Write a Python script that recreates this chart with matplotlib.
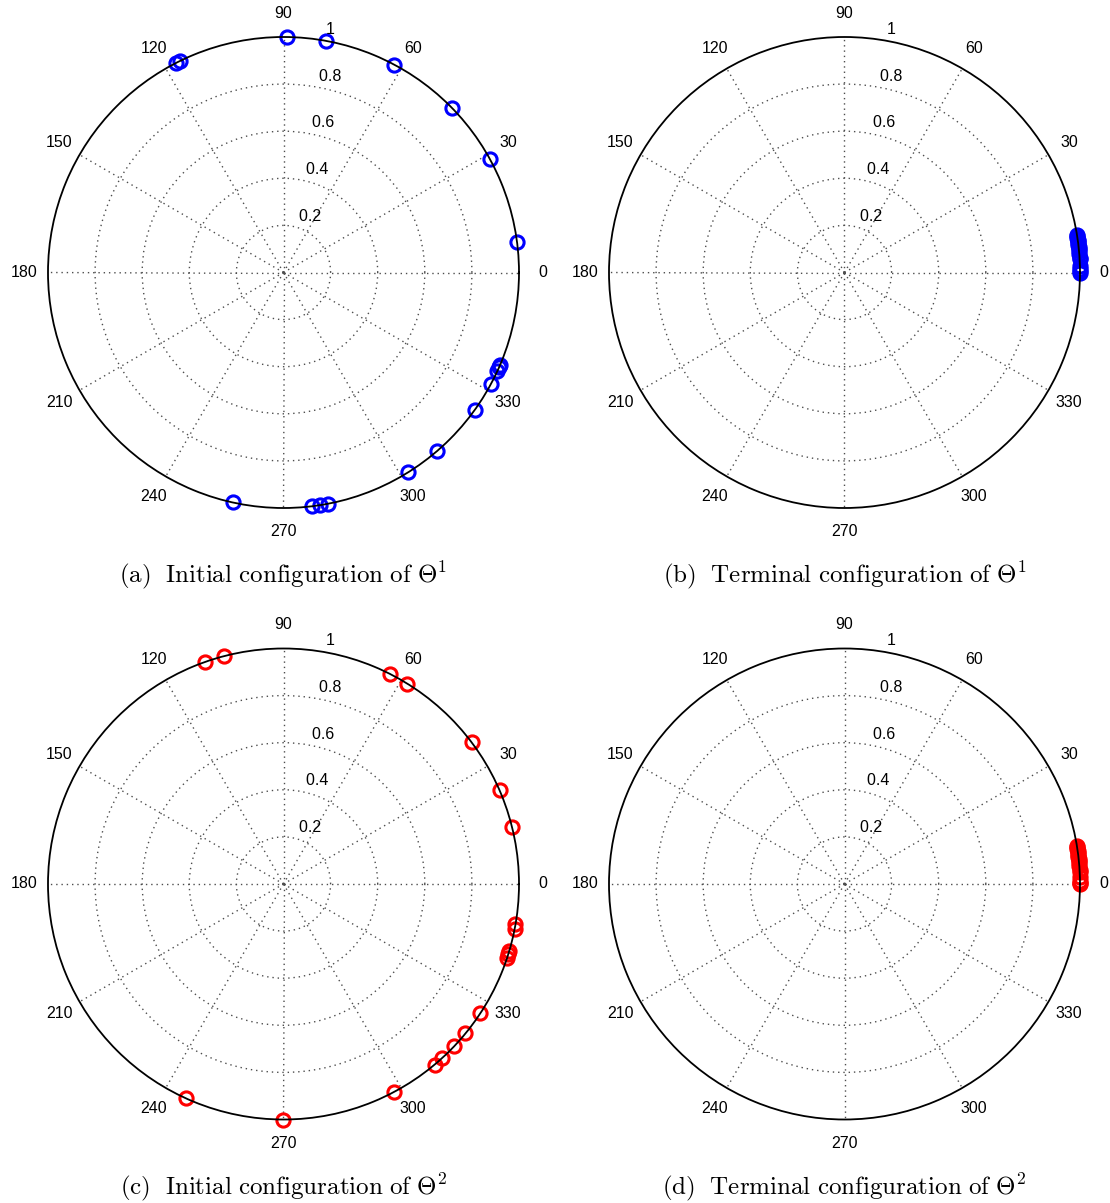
import numpy as np
import matplotlib.pyplot as plt

plt.rcParams['font.family'] = ['Liberation Sans', 'DejaVu Sans']
plt.rcParams['mathtext.fontset'] = 'cm'

# angles in degrees, all points sit on the unit circle
theta_init1 = [89.1, 79.7, 61.9, 44.2, 28.9, 7.4, 117.1, 116.0, -23.0, -23.6, -24.7,
               -28.3, -35.7, -49.2, -58.1, 257.5, -83.1, -81.2, -79.2]
theta_term1 = [0.0, 0.4, 0.8, 1.5, 3.2, 3.6, 4.6, 5.2, 5.8, 6.3, 6.8, 7.2, 7.6,
               8.0, 8.4, 8.8, 9.1]
theta_init2 = [109.6, 104.6, 63.2, 58.3, 37.0, 23.4, 14.1, -9.9, -11.0, -16.5, -17.4,
               -18.3, -33.3, -39.4, -43.5, -47.8, -50.1, -62.1, 245.6, 270.0]
theta_term2 = [0.0, 0.3, 0.7, 1.6, 3.0, 3.5, 4.4, 5.0, 5.6, 6.1, 6.6, 7.1, 7.6,
               8.0, 8.5, 9.0, 9.4]

r_ticks = [0.2, 0.4, 0.6, 0.8, 1.0]
angle_ticks = list(range(0, 360, 30))

captions = [r'$\mathrm{(a)\ \ Initial\ configuration\ of\ }\Theta^1$',
            r'$\mathrm{(b)\ \ Terminal\ configuration\ of\ }\Theta^1$',
            r'$\mathrm{(c)\ \ Initial\ configuration\ of\ }\Theta^2$',
            r'$\mathrm{(d)\ \ Terminal\ configuration\ of\ }\Theta^2$']

W, H = 1110, 1203
fig = plt.figure(figsize=(W / 100, H / 100), dpi=100)

panels = [(theta_init1, 'blue', 283.5, 272.5),
          (theta_term1, 'blue', 844.5, 272.5),
          (theta_init2, 'red', 283.5, 884),
          (theta_term2, 'red', 844.5, 884)]
R = 235.5

for k, (thetas, col, cx, cy) in enumerate(panels):
    ax = fig.add_axes([(cx - R) / W, 1 - (cy + R) / H, 2 * R / W, 2 * R / H],
                      projection='polar')
    ax.set_ylim(0, 1)
    ax.set_yticks(r_ticks[:-1])
    ax.set_yticklabels([])
    ax.set_xticks(np.deg2rad(angle_ticks))
    ax.set_xticklabels([])
    ax.tick_params(length=0)
    ax.grid(True, color='0.3', linestyle=(0, (1, 2.8)), linewidth=1.0)
    ax.spines['polar'].set_color('black')
    ax.spines['polar'].set_linewidth(1.3)

    for rv in r_ticks:
        ax.text(np.deg2rad(82), rv + 0.01, '  %g' % rv, ha='left', va='bottom',
                fontsize=11.5)
    for a in angle_ticks:
        ax.text(np.deg2rad(a), 1.1, str(a), ha='center', va='center',
                fontsize=11.5, clip_on=False)

    th = np.deg2rad(thetas)
    ax.plot(th, np.ones(len(th)), 'o', markerfacecolor='none', markeredgecolor=col,
            markersize=9.5, markeredgewidth=2.2, clip_on=False)

    fig.text(cx / W, 1 - (cy + 303) / H, captions[k], ha='center', va='center',
             fontsize=18)

fig.savefig('out.png', dpi=100)
